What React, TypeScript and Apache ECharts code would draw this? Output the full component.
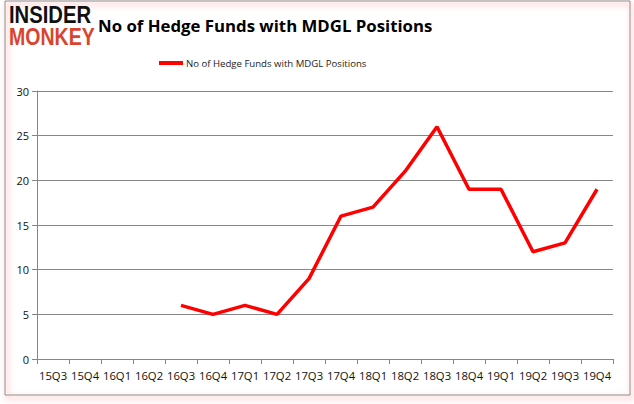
import React, { useEffect, useRef } from "react";
import * as echarts from "echarts";

const categories = ["15Q3","15Q4","16Q1","16Q2","16Q3","16Q4","17Q1","17Q2","17Q3","17Q4","18Q1","18Q2","18Q3","18Q4","19Q1","19Q2","19Q3","19Q4"];
const hedgeFunds: (number | null)[] = [null,null,null,null,6,5,6,5,9,16,17,21,26,19,19,12,13,19];
const seriesName = "No of Hedge Funds with MDGL Positions";
const titleText = "No of Hedge Funds with MDGL Positions";

export default function App() {
  const ref = useRef<HTMLDivElement>(null);
  useEffect(() => {
    if (!ref.current) return;
    const chart = echarts.init(ref.current, null, { renderer: "svg" });
    const font = "'Open Sans', 'DejaVu Sans', sans-serif";
    chart.setOption({
      animation: false,
      backgroundColor: "#ffffff",
      title: {
        text: titleText,
        left: 93,
        top: 12,
        textStyle: { fontFamily: font, fontSize: 16.8, fontWeight: "bold", color: "#000" },
      },
      legend: {
        data: [seriesName],
        top: 53,
        left: 154,
        itemWidth: 24,
        itemHeight: 4,
        icon: "rect",
        itemGap: 3,
        textStyle: { fontFamily: font, fontSize: 9.6, color: "#222", padding: [0, 0, 0, -2] },
      },
      grid: { left: 37, right: 21, top: 91, bottom: 45, containLabel: false },
      xAxis: {
        type: "category",
        data: categories,
        boundaryGap: true,
        axisLine: { lineStyle: { color: "#868686" } },
        axisTick: { show: true, alignWithLabel: false, length: 5, lineStyle: { color: "#868686" } },
        axisLabel: { fontFamily: font, fontSize: 11.3, color: "#111", margin: 11, interval: 0 },
      },
      yAxis: {
        type: "value",
        min: 0,
        max: 30,
        interval: 5,
        axisLine: { show: true, lineStyle: { color: "#868686" } },
        axisTick: { show: true, length: 5, lineStyle: { color: "#868686" } },
        splitLine: { lineStyle: { color: "#868686" } },
        axisLabel: { fontFamily: font, fontSize: 11, color: "#111", margin: 8 },
      },
      series: [
        {
          name: seriesName,
          type: "line",
          data: hedgeFunds,
          showSymbol: false,
          symbol: "none",
          connectNulls: false,
          lineStyle: { color: "#ff0000", width: 3.5 },
          itemStyle: { color: "#ff0000" },
        },
      ],
      graphic: [
        {
          type: "rect",
          shape: { x: 5, y: 1, width: 625, height: 394 },
          style: { fill: "none", stroke: "#8c8c8c", lineWidth: 1, shadowColor: "rgba(255,0,0,0.6)", shadowBlur: 6, shadowOffsetX: 2, shadowOffsetY: 3 },
          silent: true,
          z: -1,
        },
        {
          type: "text",
          x: 9,
          y: 4,
          scaleX: 0.88,
          style: { text: "INSIDER", fontFamily: "'Liberation Sans', Arial, sans-serif", fontWeight: "bold", fontSize: 23, fill: "#111" },
        },
        {
          type: "text",
          x: 9,
          y: 26,
          scaleX: 0.85,
          style: { text: "MONKEY", fontFamily: "'Liberation Sans', Arial, sans-serif", fontWeight: "bold", fontSize: 23, fill: "#d9442e" },
        },
      ],
    });
    return () => chart.dispose();
  }, []);
  return <div ref={ref} style={{ position: "absolute", left: 0, top: 0, width: 634, height: 404 }} />;
}
